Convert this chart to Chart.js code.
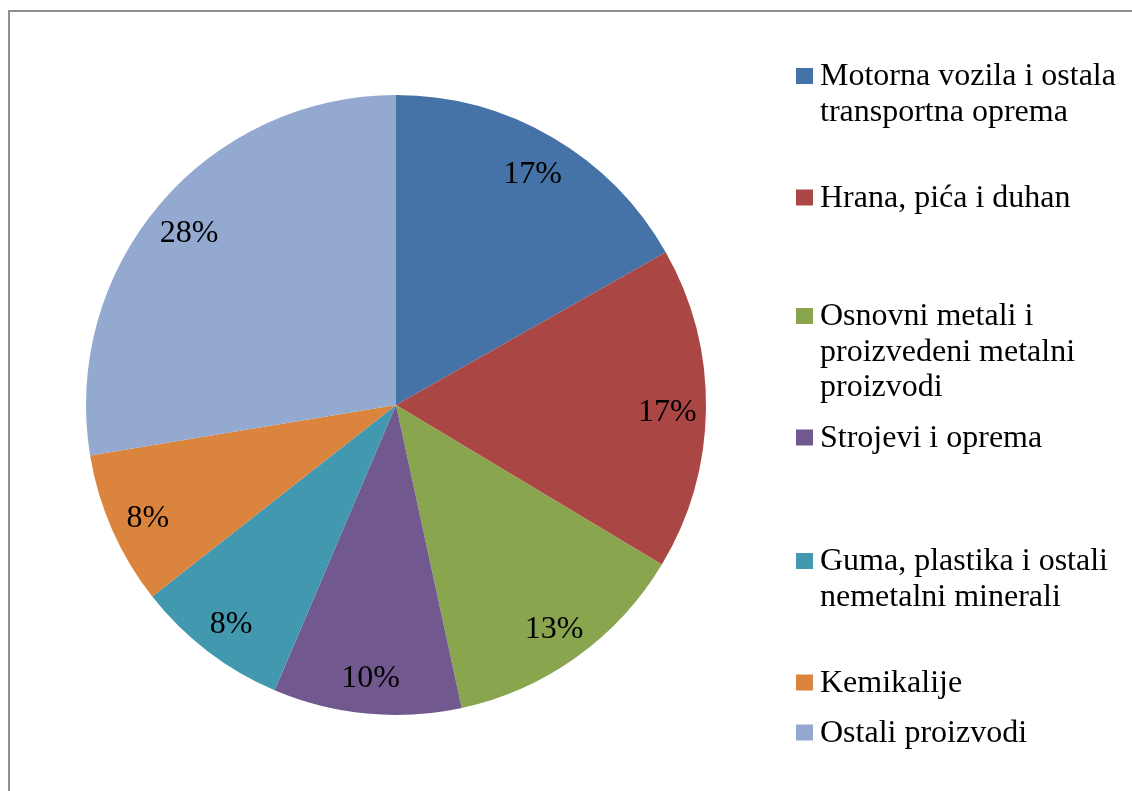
<!DOCTYPE html>
<html>
<head>
<meta charset="utf-8">
<script src="https://cdn.jsdelivr.net/npm/chart.js@4/dist/chart.umd.min.js"></script>
<style>
  html, body { margin: 0; padding: 0; background: #fff; overflow: hidden; }
  #frame {
    position: absolute; left: 8px; top: 10px; width: 1200px; height: 900px;
    border-left: 2px solid #8f8f8f; border-top: 2px solid #8f8f8f;
  }
  #wrap { position: absolute; left: 0; top: 0; width: 1132px; height: 791px; }
</style>
</head>
<body>
<div id="frame"></div>
<div id="wrap"><canvas id="industry-chart" width="1132" height="791"></canvas></div>
<script>
'use strict';

// ******** DATA **************
let categories = [
  ['Motorna vozila i ostala', 'transportna oprema'],
  ['Hrana, pića i duhan'],
  ['Osnovni metali i', 'proizvedeni metalni', 'proizvodi'],
  ['Strojevi i oprema'],
  ['Guma, plastika i ostali', 'nemetalni minerali'],
  ['Kemikalije'],
  ['Ostali proizvodi']
];
let shares = [16.8, 16.8, 13.0, 9.8, 8.0, 8.0, 27.6];
let sliceColors = ['#4572A7', '#AA4643', '#89A54E', '#71588F', '#4198AF', '#DB843D', '#93A9CF'];

// ******** LAYOUT ****************
let fontFamily = '"Liberation Serif", "Times New Roman", serif';
let fontSize = 32;
let legendBaselines = [85, 206.5, 325, 446.5, 570, 691.5, 741.5];
let legendLineHeight = 35.5;

// ******** PLUGINS ***************
// percent labels inside each slice
let sliceLabels = {
  id: 'sliceLabels',
  afterDatasetsDraw(chart){
    let ctx = chart.ctx;
    let meta = chart.getDatasetMeta(0);
    let data = chart.data.datasets[0].data;
    let total = data.reduce((a, b) => a + b, 0);
    ctx.save();
    ctx.font = `${fontSize}px ${fontFamily}`;
    ctx.fillStyle = '#000';
    ctx.textAlign = 'center';
    ctx.textBaseline = 'middle';
    meta.data.forEach((arc, i) => {
      let mid = (arc.startAngle + arc.endAngle) / 2;
      let r = arc.outerRadius * 0.875;
      let x = arc.x + Math.cos(mid) * r;
      let y = arc.y + Math.sin(mid) * r + 4;
      ctx.fillText(Math.round(data[i] / total * 100) + '%', x, y);
    });
    ctx.restore();
  }
};

// legend on the right, drawn like the original (wrapped lines)
let sideLegend = {
  id: 'sideLegend',
  afterDraw(chart){
    let ctx = chart.ctx;
    ctx.save();
    ctx.font = `${fontSize}px ${fontFamily}`;
    ctx.textAlign = 'left';
    ctx.textBaseline = 'alphabetic';
    chart.data.labels.forEach((lines, i) => {
      let base = legendBaselines[i];
      ctx.fillStyle = sliceColors[i];
      ctx.fillRect(796, base - 17, 17, 16);
      ctx.fillStyle = '#000';
      lines.forEach((line, j) => {
        ctx.fillText(line, 820, base + j * legendLineHeight);
      });
    });
    ctx.restore();
  }
};

// ******** CHART ***************
let chartCanvas = document.getElementById('industry-chart');

new Chart(chartCanvas, {
  type: 'pie',
  data: {
    labels: categories,
    datasets: [{
      data: shares,
      backgroundColor: sliceColors,
      borderWidth: 0
    }]
  },
  options: {
    responsive: false,
    animation: false,
    layout: {
      padding: { left: 86, right: 426, top: 95, bottom: 76 }
    },
    plugins: {
      legend: { display: false },
      tooltip: { enabled: false }
    }
  },
  plugins: [sliceLabels, sideLegend]
});
</script>
</body>
</html>
